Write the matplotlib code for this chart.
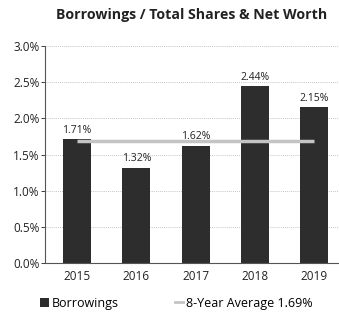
import matplotlib
matplotlib.use("Agg")
import matplotlib.pyplot as plt
from matplotlib.ticker import FuncFormatter
from matplotlib.lines import Line2D
from matplotlib.patches import Patch

years = ["2015", "2016", "2017", "2018", "2019"]
borrowings = [1.71, 1.32, 1.62, 2.44, 2.15]
average = 1.69
title = "Borrowings / Total Shares & Net Worth"
avg_label = "8-Year Average 1.69%"

plt.rcParams['font.family'] = ['Open Sans', 'DejaVu Sans']

fig = plt.figure(figsize=(3.39, 3.26), dpi=100)
ax = fig.add_axes([0.133, 0.193, 0.864, 0.666])

x = list(range(len(years)))
bar_color = "#2d2d2d"
ax.bar(x, borrowings, width=0.47, color=bar_color, zorder=2)
for xi, v in zip(x, borrowings):
    ax.text(xi, v + 0.05, f"{v:.2f}%", ha="center", va="bottom", fontsize=7.5, color="#222222")

ax.plot([x[0], x[-1]], [average, average], color="#c4c4c4", lw=2.5, zorder=3,
        solid_capstyle="butt")

ax.set_ylim(0, 3.0)
ax.set_xlim(-0.54, 4.4)
ax.set_yticks([0, 0.5, 1.0, 1.5, 2.0, 2.5, 3.0])
ax.yaxis.set_major_formatter(FuncFormatter(lambda v, p: f"{v:.1f}%"))
ax.set_xticks(x)
ax.set_xticklabels(years)
ax.tick_params(axis="y", labelsize=8.5, length=3, width=0.6, pad=1, colors="#222222")
ax.tick_params(axis="x", labelsize=8.5, length=0, pad=5, colors="#222222")
ax.yaxis.grid(True, linestyle=(0, (1, 1.5)), color="#b0b0b0", lw=0.6, zorder=0)
for s in ["top", "right"]:
    ax.spines[s].set_visible(False)
for s in ["left", "bottom"]:
    ax.spines[s].set_color("#555555")
    ax.spines[s].set_linewidth(0.8)

fig.text(0.565, 0.953, title, ha="center", va="center", fontsize=10.2, fontweight="bold", color="#222222")

handles = [Patch(facecolor=bar_color, edgecolor="none"),
           Line2D([0], [0], color="#c4c4c4", lw=2)]
fig.legend(handles, ["Borrowings", avg_label], loc="center", bbox_to_anchor=(0.52, 0.07),
           ncol=2, frameon=False, fontsize=9, handlelength=0.7, handleheight=0.8,
           handletextpad=0.2, columnspacing=4.5)

fig.savefig("out.png", dpi=100)
